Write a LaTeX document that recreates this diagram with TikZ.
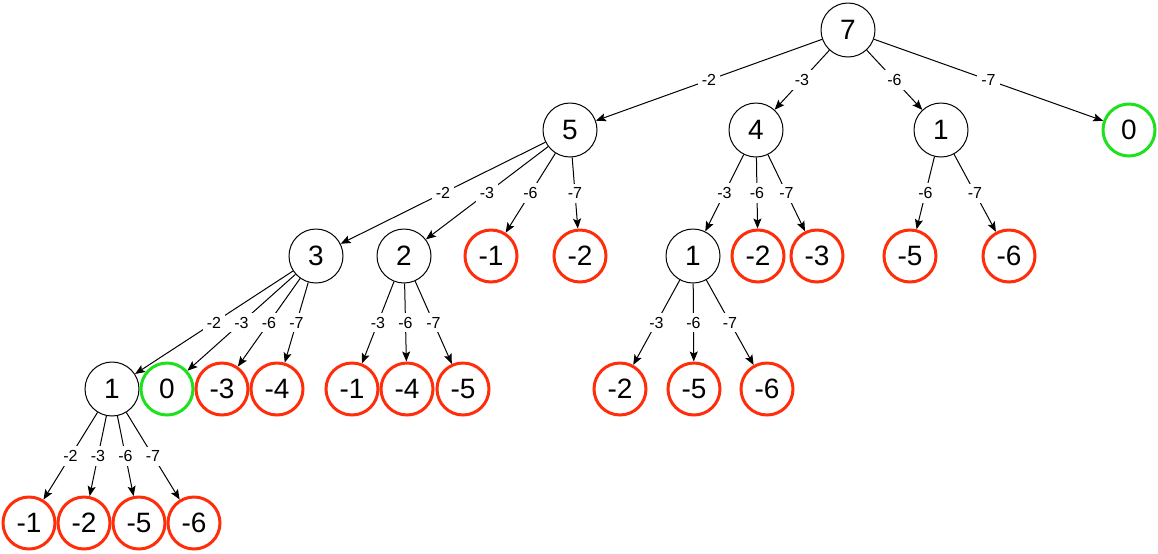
\documentclass[tikz,border=0pt]{standalone}
\usepackage{fontspec}
\setmainfont{Liberation Sans}
\usetikzlibrary{arrows.meta}
\definecolor{deadred}{RGB}{255,45,10}
\definecolor{hitgreen}{RGB}{30,225,30}
\tikzset{
  pin/.style={-{Stealth[length=5pt, width=4pt, inset=1pt]}, line width=0.5pt},
  nd/.style={circle, draw, line width=0.5pt, minimum size=27pt, inner sep=0pt, font=\fontsize{14}{16}\selectfont},
  bad/.style={nd, draw=deadred, line width=1.5pt, minimum size=26pt},
  good/.style={nd, draw=hitgreen, line width=1.5pt, minimum size=26pt},
  lbl/.style={midway, fill=white, inner sep=2pt, font=\fontsize{8}{9.5}\selectfont}
}

\begin{document}
\begin{tikzpicture}[x=0.5pt, y=-0.5pt]
  \useasboundingbox (0,0) rectangle (1158,553);
  % root and first moves
  \node[nd] (r) at (848,30) {7};
  \node[nd] (a) at (570,130) {5};
  \node[nd] (b) at (756,130) {4};
  \node[nd] (c) at (941,130) {1};
  \node[good] (d) at (1129,130) {0};
  % second level
  \node[nd] (aa) at (316,256) {3};
  \node[nd] (ab) at (404,256) {2};
  \node[bad] (ac) at (491,256) {-1};
  \node[bad] (ad) at (580,256) {-2};
  \node[nd] (ba) at (693,256) {1};
  \node[bad] (bb) at (758,256) {-2};
  \node[bad] (bc) at (817,256) {-3};
  \node[bad] (ca) at (910,256) {-5};
  \node[bad] (cb) at (1009,256) {-6};
  % third level
  \node[nd] (aaa) at (112,389) {1};
  \node[good] (aab) at (167,389) {0};
  \node[bad] (aac) at (222,389) {-3};
  \node[bad] (aad) at (277,389) {-4};
  \node[bad] (aba) at (352,389) {-1};
  \node[bad] (abb) at (407,389) {-4};
  \node[bad] (abc) at (463,389) {-5};
  \node[bad] (baa) at (620,389) {-2};
  \node[bad] (bab) at (694,389) {-5};
  \node[bad] (bac) at (767,389) {-6};
  % fourth level
  \node[bad] (aaaa) at (29,523) {-1};
  \node[bad] (aaab) at (84,523) {-2};
  \node[bad] (aaac) at (139,523) {-5};
  \node[bad] (aaad) at (194,523) {-6};
  % moves
  \foreach \s/\t/\w in {r/a/-2, r/b/-3, r/c/-6, r/d/-7,
      a/aa/-2, a/ab/-3, a/ac/-6, a/ad/-7,
      b/ba/-3, b/bb/-6, b/bc/-7, c/ca/-6, c/cb/-7,
      aa/aaa/-2, aa/aab/-3, aa/aac/-6, aa/aad/-7,
      ab/aba/-3, ab/abb/-6, ab/abc/-7,
      ba/baa/-3, ba/bab/-6, ba/bac/-7,
      aaa/aaaa/-2, aaa/aaab/-3, aaa/aaac/-6, aaa/aaad/-7}
    \draw[pin] (\s) -- node[lbl]{\w} (\t);
\end{tikzpicture}
\end{document}
